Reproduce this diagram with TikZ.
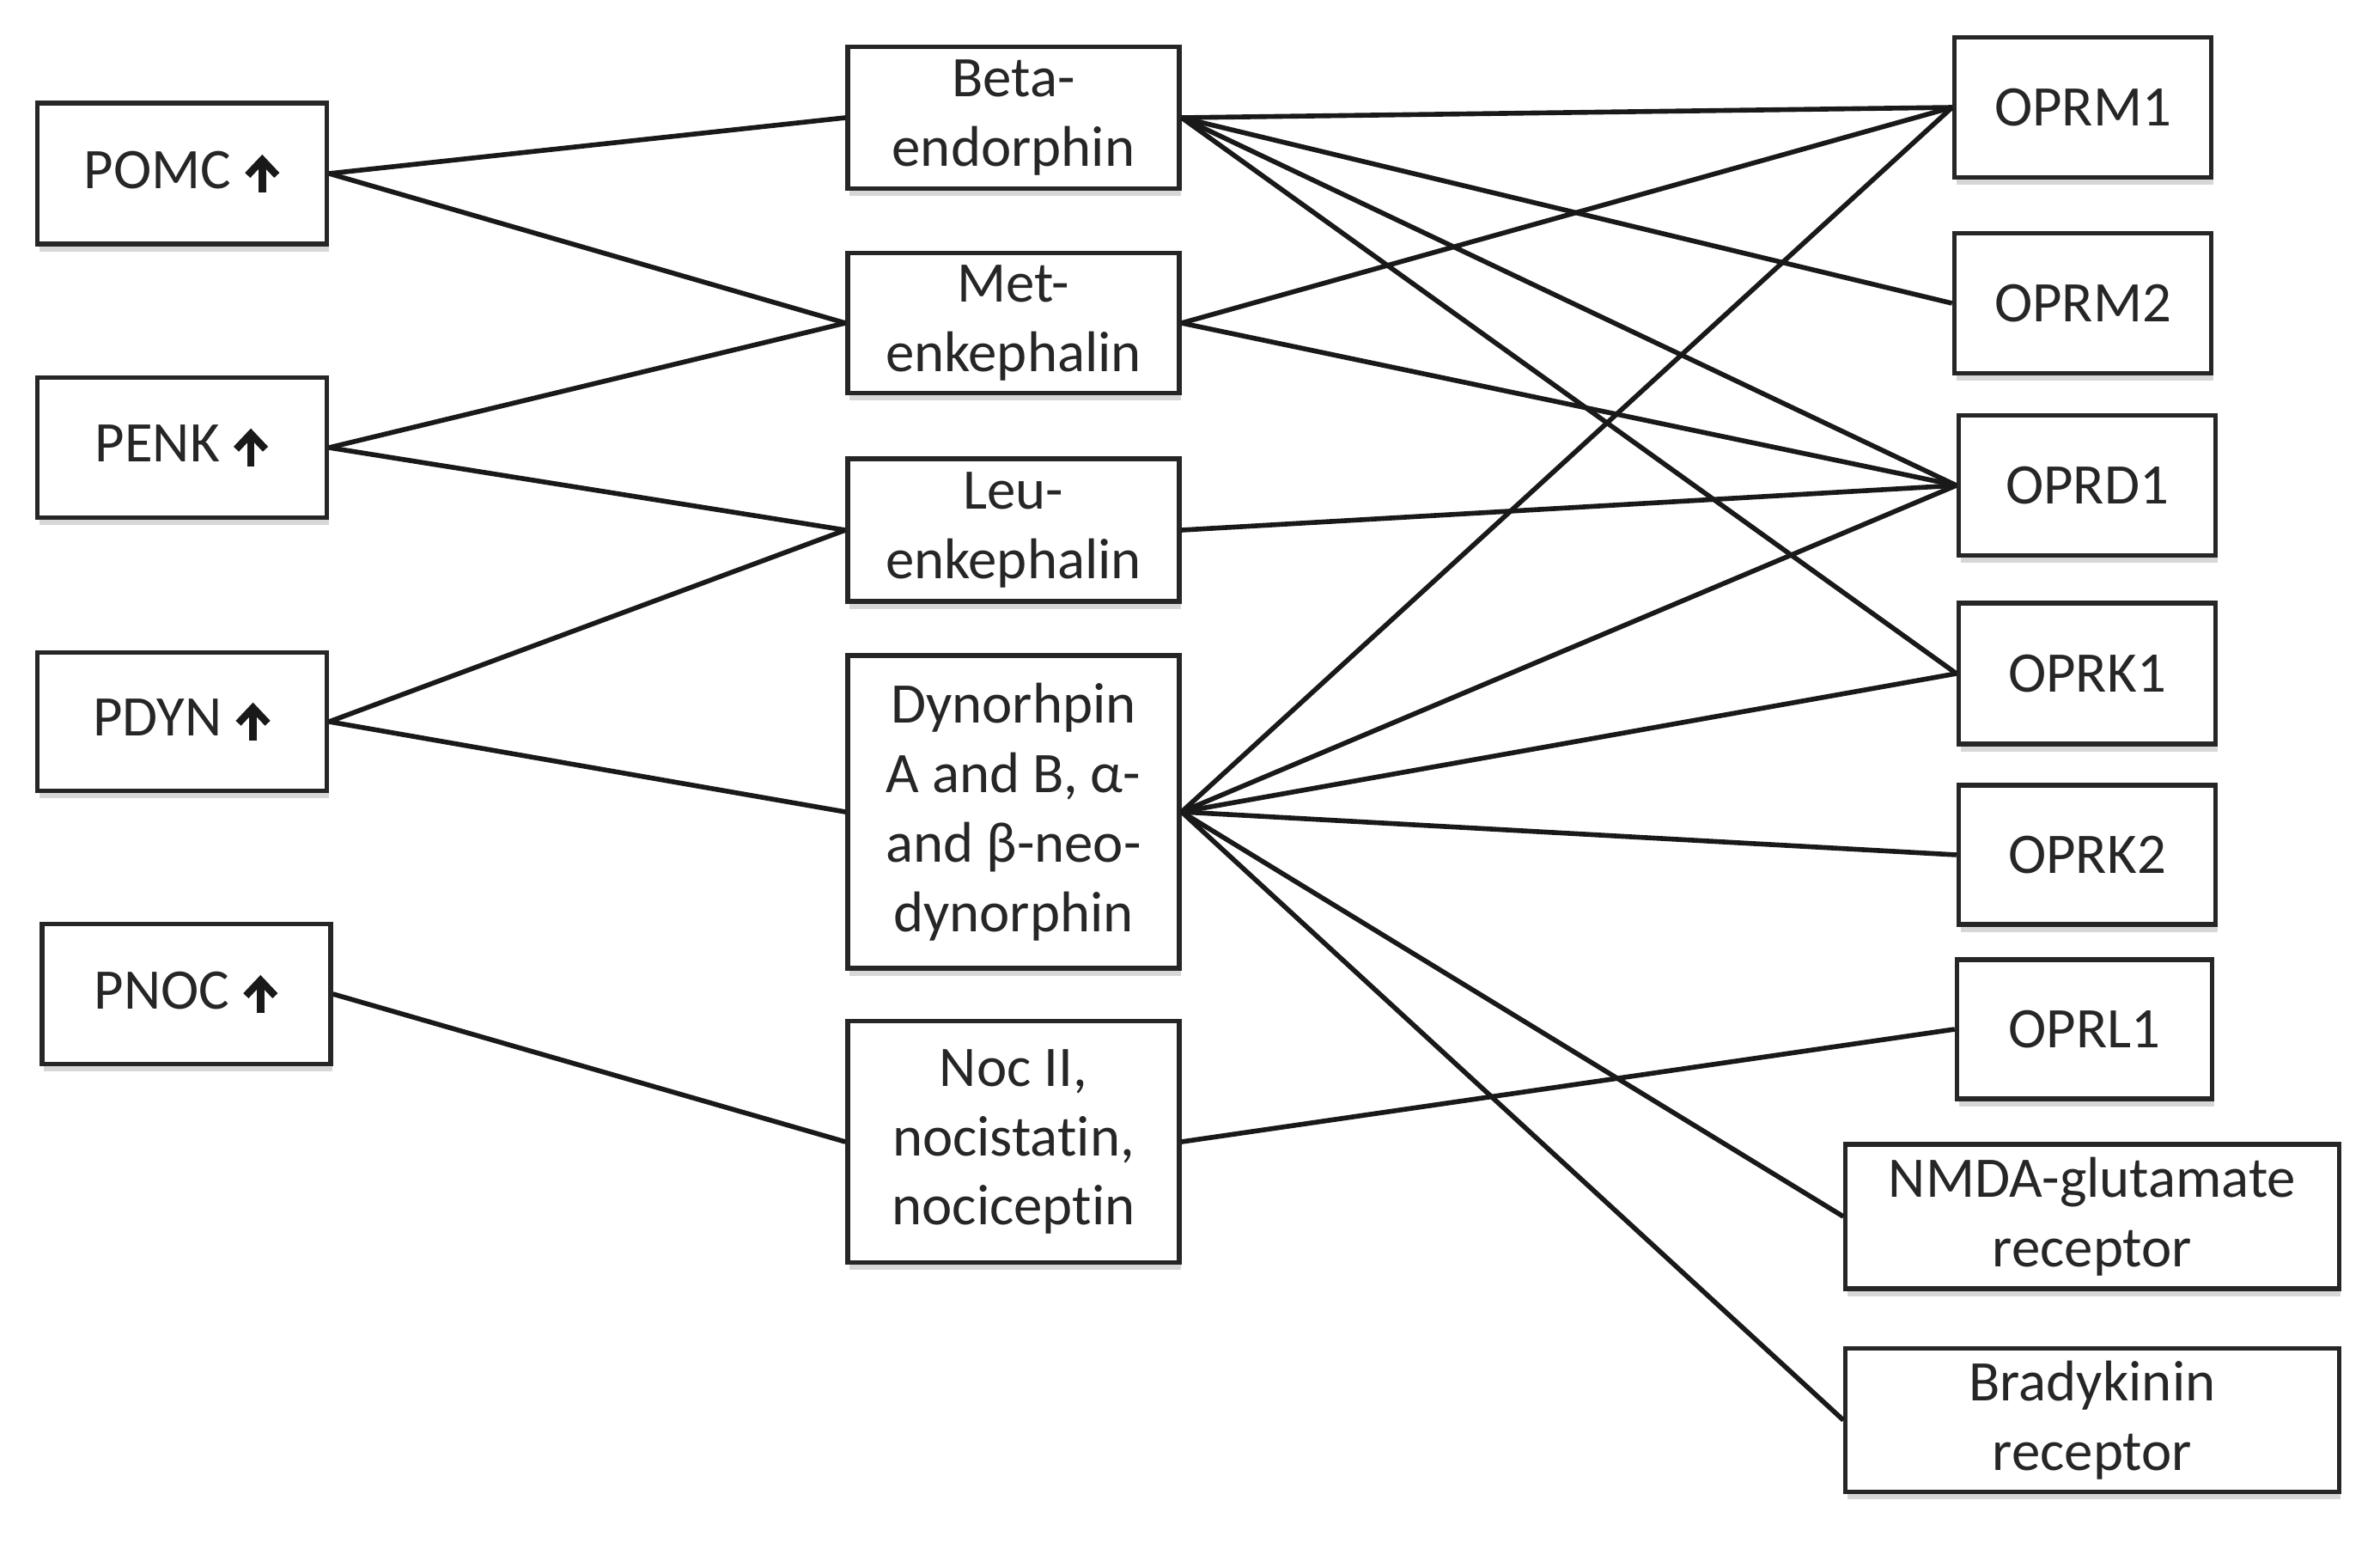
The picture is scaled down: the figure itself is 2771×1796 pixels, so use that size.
\documentclass[tikz,border=0pt]{standalone}
\usepackage{fontspec}
\setmainfont{Carlito}[Ligatures={NoCommon}]
\usetikzlibrary{shadows}
\tikzset{
  box/.style={draw=black!85, line width=1.5pt, fill=white, inner sep=0pt, align=center,
    text=black!85, font=\fontsize{19}{23}\selectfont,
    drop shadow={shadow xshift=0.6pt, shadow yshift=-2.5pt, fill=black!35, opacity=0.45}},
  link/.style={line width=1.6pt, draw=black!90},
}
\newcommand{\uparr}{\tikz[baseline=0pt,x=1cm,y=1cm]{\draw[line width=2.4pt, black!90] (0,-0.05) -- (0,0.33);
  \draw[line width=2.4pt, black!90, line join=miter, line cap=butt] (-0.17,0.15) -- (0,0.33) -- (0.17,0.15);}}
\begin{document}
\begin{tikzpicture}[x=0.01cm,y=-0.01cm]
\useasboundingbox (0,0) rectangle (2771,1796);
% left column
\node[box, minimum width=3.37cm, minimum height=1.64cm] (pomc) at (212,202) {POMC \uparr};
\node[box, minimum width=3.37cm, minimum height=1.63cm] (penk) at (212,521) {PENK \uparr};
\node[box, minimum width=3.37cm, minimum height=1.61cm] (pdyn) at (212,840) {PDYN \uparr};
\node[box, minimum width=3.36cm, minimum height=1.63cm] (pnoc) at (217,1157) {PNOC \uparr};
% middle column
\node[box, minimum width=3.86cm, minimum height=1.65cm] (beta) at (1180,137) {Beta-\\endorphin};
\node[box, minimum width=3.86cm, minimum height=1.63cm] (met) at (1180,376) {Met-\\enkephalin};
\node[box, minimum width=3.86cm, minimum height=1.66cm] (leu) at (1180,617) {Leu-\\enkephalin};
\node[box, minimum width=3.86cm, minimum height=3.64cm] (dyn) at (1180,945) {Dynorhpin\\A and B, α-\\and β-neo-\\dynorphin};
\node[box, minimum width=3.86cm, minimum height=2.81cm] (noc) at (1180,1329) {Noc II,\\nocistatin,\\nociceptin};
% right column
\node[box, minimum width=2.99cm, minimum height=1.63cm] (oprm1) at (2425,125) {OPRM1};
\node[box, minimum width=2.99cm, minimum height=1.63cm] (oprm2) at (2425,353) {OPRM2};
\node[box, minimum width=2.99cm, minimum height=1.63cm] (oprd1) at (2430,565) {OPRD1};
\node[box, minimum width=2.99cm, minimum height=1.64cm] (oprk1) at (2430,784) {OPRK1};
\node[box, minimum width=2.99cm, minimum height=1.62cm] (oprk2) at (2430,995) {OPRK2};
\node[box, minimum width=2.97cm, minimum height=1.62cm] (oprl1) at (2427,1198) {OPRL1};
\node[box, minimum width=5.74cm, minimum height=1.68cm] (nmda) at (2436,1416) {NMDA-glutamate\\receptor};
\node[box, minimum width=5.74cm, minimum height=1.67cm] (brady) at (2436,1653) {Bradykinin\\receptor};
% connectors
\draw[link] (pomc.east) -- (beta.west);
\draw[link] (pomc.east) -- (met.west);
\draw[link] (penk.east) -- (met.west);
\draw[link] (penk.east) -- (leu.west);
\draw[link] (pdyn.east) -- (leu.west);
\draw[link] (pdyn.east) -- (dyn.west);
\draw[link] (pnoc.east) -- (noc.west);
\draw[link] (beta.east) -- (oprm1.west);
\draw[link] (beta.east) -- (oprm2.west);
\draw[link] (beta.east) -- (oprd1.west);
\draw[link] (beta.east) -- (oprk1.west);
\draw[link] (met.east) -- (oprm1.west);
\draw[link] (met.east) -- (oprd1.west);
\draw[link] (leu.east) -- (oprd1.west);
\draw[link] (dyn.east) -- (oprm1.west);
\draw[link] (dyn.east) -- (oprd1.west);
\draw[link] (dyn.east) -- (oprk1.west);
\draw[link] (dyn.east) -- (oprk2.west);
\draw[link] (dyn.east) -- (nmda.west);
\draw[link] (dyn.east) -- (brady.west);
\draw[link] (noc.east) -- (oprl1.west);
\end{tikzpicture}
\end{document}
